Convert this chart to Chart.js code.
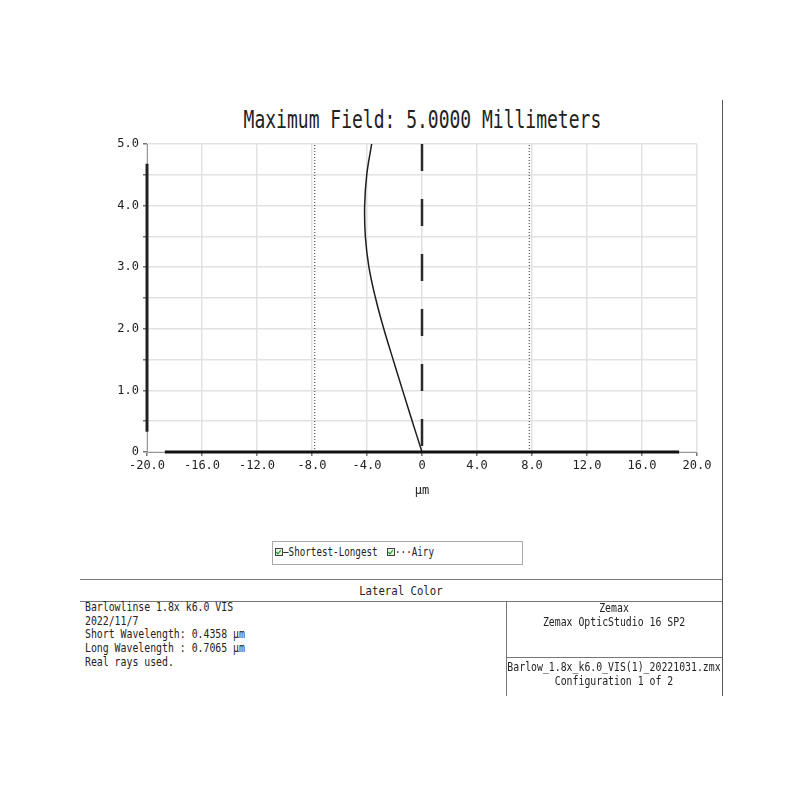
<!DOCTYPE html>
<html>
<head>
<meta charset="utf-8">
<script src="https://cdn.jsdelivr.net/npm/chart.js@4"></script>
<style>
    body { margin: 0; background: #fff; }
    #wrap { position: relative; width: 800px; height: 800px; background: #fff; overflow: hidden; }
    .mono { font-family: 'DejaVu Sans Mono', 'Liberation Mono', monospace; color: #222; white-space: nowrap; }
    .abs { position: absolute; }
    .cond { transform: scaleX(0.82); transform-origin: left center; }
    .condc { transform: scaleX(0.82); transform-origin: center center; }
    .hline { position: absolute; height: 0; border-top: 1px solid #777; }
    .vline { position: absolute; width: 0; border-left: 1px solid #777; }
    .chk { position: absolute; width: 6px; height: 6px; border: 1px solid #444; background: #dff5df; }
    .chk::after { content: ''; position: absolute; left: 1px; top: 0px; width: 2px; height: 4px;
        border: solid #1a8a1a; border-width: 0 1.5px 1.5px 0; transform: rotate(40deg); }
</style>
</head>
<body>
<div id="wrap">
    <div class="abs mono" style="left:0;top:107px;width:844px;height:26px;line-height:26px;text-align:center;"><span style="display:inline-block;font-size:24px;transform:scaleX(0.75);">Maximum Field: 5.0000 Millimeters</span></div>

    <div class="abs" style="left:0;top:0;width:800px;height:530px;">
        <canvas id="lateralChart" width="800" height="530"></canvas>
    </div>

    <!-- legend -->
    <div class="abs" style="left:272px;top:541px;width:249px;height:22px;border:1px solid #aaa;"></div>
    <span class="chk" style="left:275px;top:548px;"></span>
    <div class="abs mono cond" style="left:283px;top:545px;font-size:12px;line-height:14px;transform:scaleX(0.77);">—Shortest-Longest</div>
    <span class="chk" style="left:387px;top:548px;"></span>
    <div class="abs mono cond" style="left:395px;top:545px;font-size:12px;line-height:14px;transform:scaleX(0.77);">···Airy</div>

    <!-- info block -->
    <div class="vline" style="left:722px;top:100px;height:596px;border-left:1.5px solid #555;"></div>
    <div class="hline" style="left:80px;top:579px;width:642px;"></div>
    <div class="hline" style="left:80px;top:601px;width:642px;"></div>
    <div class="vline" style="left:506px;top:601px;height:95px;"></div>
    <div class="hline" style="left:506px;top:657px;width:216px;"></div>

    <div class="abs mono" style="left:80px;top:581px;width:642px;text-align:center;font-size:13px;line-height:19px;"><span style="display:inline-block;transform:scaleX(0.82);">Lateral Color</span></div>

    <div class="abs mono cond" style="left:85px;top:601px;font-size:12px;line-height:13.7px;">
        <div>Barlowlinse 1.8x k6.0 VIS</div>
        <div>2022/11/7</div>
        <div>Short Wavelength: 0.4358 µm</div>
        <div>Long Wavelength : 0.7065 µm</div>
        <div>Real rays used.</div>
    </div>

    <div class="abs mono" style="left:414px;top:602px;width:400px;text-align:center;font-size:12px;line-height:13.7px;">
        <div class="condc">Zemax</div>
        <div class="condc">Zemax OpticStudio 16 SP2</div>
    </div>
    <div class="abs mono" style="left:414px;top:661px;width:400px;text-align:center;font-size:12px;line-height:13.7px;">
        <div class="condc">Barlow_1.8x_k6.0_VIS(1)_20221031.zmx</div>
        <div class="condc">Configuration 1 of 2</div>
    </div>
</div>

<script>
// Field height (mm) and lateral color shift (µm)
const fieldY = [0, 0.5, 1.0, 1.5, 2.0, 2.5, 3.0, 3.5, 4.0, 4.5, 5.0];
const shortLongX = [0, -0.71, -1.41, -2.10, -2.78, -3.38, -3.86, -4.12, -4.17, -4.02, -3.66];

// Airy disk radius, drawn at +/- on each side
const airyRadius = [-7.8, 7.8];

// Axis ranges
const xRange = [-20, 20];
const yRange = [0, 5];
const xStep = 4;
const yStep = 0.5;

// Dark part of the axis lines (Zemax style)
const xAxisDark = [-18.7, 18.7];
const yAxisDark = [0.33, 4.68];

const fmt = v => (Math.abs(v) < 1e-9 ? '0' : v.toFixed(1));

const datasets = [
    {
        label: 'Shortest-Longest',
        data: fieldY.map((y, i) => ({ x: shortLongX[i], y: y })),
        borderColor: '#1e1e1e',
        borderWidth: 1.5,
        tension: 0.4,
        pointRadius: 0,
        showLine: true
    },
    {
        label: 'Center',
        data: [{ x: 0, y: yRange[1] }, { x: 0, y: yRange[0] }],
        borderColor: '#2a2a2a',
        borderWidth: 2.5,
        borderDash: [27, 28],
        pointRadius: 0,
        showLine: true
    },
    {
        label: 'Axis x',
        data: xAxisDark.map(x => ({ x: x, y: yRange[0] })),
        borderColor: '#111',
        borderWidth: 3,
        pointRadius: 0,
        showLine: true,
        clip: 4
    },
    {
        label: 'Axis y',
        data: yAxisDark.map(y => ({ x: xRange[0], y: y })),
        borderColor: '#222',
        borderWidth: 3,
        pointRadius: 0,
        showLine: true,
        clip: 4
    }
];

airyRadius.forEach(r => {
    datasets.push({
        label: 'Airy',
        data: [{ x: r, y: yRange[0] }, { x: r, y: yRange[1] }],
        borderColor: '#333',
        borderWidth: 1,
        borderDash: [1, 2],
        pointRadius: 0,
        showLine: true
    });
});

const tickFont = { family: "'DejaVu Sans Mono', monospace", size: 12 };

const ctx = document.getElementById('lateralChart').getContext('2d');
const lateralChart = new Chart(ctx, {
    type: 'scatter',
    data: { datasets: datasets },
    options: {
        responsive: false,
        animation: false,
        layout: {
            padding: { left: 80, right: 103, top: 144, bottom: 23 }
        },
        plugins: {
            legend: { display: false },
            tooltip: { enabled: false }
        },
        scales: {
            x: {
                type: 'linear',
                min: xRange[0],
                max: xRange[1],
                afterFit: scale => { scale.height = 55; },
                ticks: {
                    stepSize: xStep,
                    color: '#222',
                    font: tickFont,
                    padding: 3,
                    maxRotation: 0,
                    autoSkip: false,
                    callback: v => fmt(v)
                },
                grid: { color: '#e2e2e2', lineWidth: 1.5, tickLength: 4, tickColor: '#777' },
                border: { color: '#999', width: 1 },
                title: {
                    display: true,
                    text: 'µm',
                    color: '#222',
                    font: tickFont,
                    padding: { top: 4, bottom: 9 }
                }
            },
            y: {
                type: 'linear',
                min: yRange[0],
                max: yRange[1],
                afterFit: scale => { scale.width = 67; },
                ticks: {
                    stepSize: yStep,
                    color: '#222',
                    font: tickFont,
                    padding: 4,
                    autoSkip: false,
                    callback: v => (Math.abs(v - Math.round(v)) < 1e-9 ? fmt(v) : '')
                },
                grid: { color: '#e2e2e2', lineWidth: 1.5, tickLength: 4, tickColor: '#777' },
                border: { color: '#999', width: 1 }
            }
        }
    }
});
</script>
</body>
</html>
